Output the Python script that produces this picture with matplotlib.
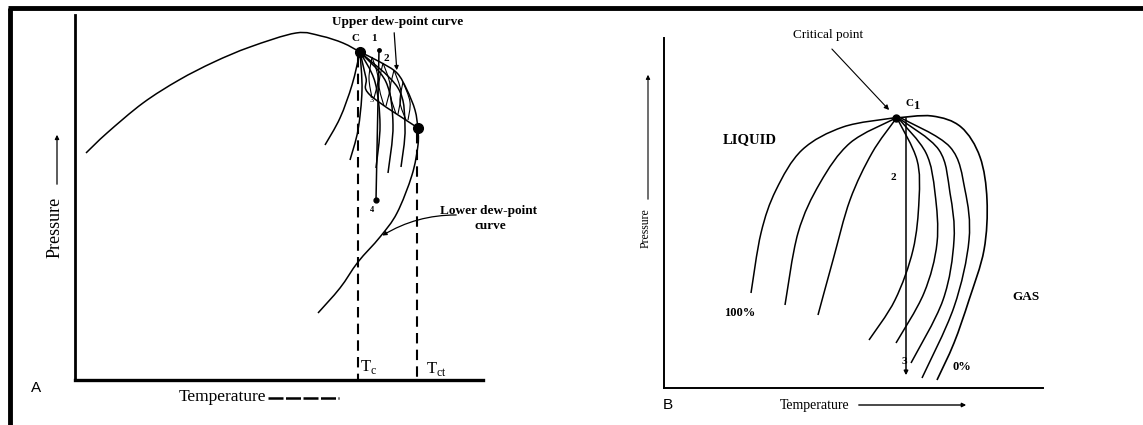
import matplotlib.pyplot as plt
import numpy as np
from matplotlib.path import Path
from matplotlib.patches import PathPatch

# all coordinates are picture pixels (x to the right, y downwards)

# ---------- panel A : retrograde condensation ----------
bubble_A = [(86, 153), (107, 133), (143, 103), (179, 80), (214, 62), (250, 47),
            (296, 33), (321, 36), (343, 43), (360, 52)]
upper_dew_A = [(360, 52), (380, 62), (397, 73), (407, 90), (415, 110), (418, 128)]
lower_dew_A = [(418, 128), (418, 145), (412, 175), (397, 213), (380, 237),
               (358, 262), (340, 288), (318, 313)]
inner_edge_A = [(360, 52), (366, 78), (370, 95), (418, 128)]
quality_A = [
    [(360, 52), (352, 85), (340, 118), (325, 145)],
    [(360, 52), (362, 90), (358, 130), (350, 160)],
    [(360, 52), (375, 82), (380, 125), (376, 168)],
    [(360, 52), (386, 82), (393, 125), (388, 173)],
    [(360, 52), (398, 88), (405, 128), (401, 167)],
]
hatch_A = [
    [(372, 57), (369, 78), (372, 98)],
    [(383, 63), (379, 85), (384, 106)],
    [(394, 70), (390, 92), (396, 114)],
    [(403, 82), (400, 102), (406, 120)],
    [(372, 57), (378, 78), (374, 98)],
    [(383, 63), (390, 85), (386, 106)],
    [(394, 70), (401, 92), (398, 114)],
    [(403, 82), (410, 102), (408, 120)],
]
crit_A = (360, 52)
cricondentherm_A = (418, 128)
path_14 = [(379, 50), (376, 200)]
Tc_x, Tct_x = 358, 417

# ---------- panel B : phase envelope with quality lines ----------
envelope_B = [(896, 118), (932, 116), (961, 127), (980, 157), (987, 200),
              (984, 250), (969, 300), (954, 343), (937, 380)]
quality_B = [
    [(893, 118), (843, 127), (802, 150), (776, 190), (761, 233), (751, 293)],
    [(894, 119), (850, 143), (820, 183), (798, 233), (785, 305)],
    [(895, 120), (872, 153), (850, 200), (833, 260), (818, 315)],
    [(898, 120), (917, 160), (919, 200), (913, 250), (895, 300), (869, 340)],
    [(899, 119), (926, 153), (935, 193), (937, 243), (924, 293), (896, 343)],
    [(900, 119), (939, 150), (950, 193), (954, 240), (943, 300), (911, 363)],
    [(901, 118), (950, 147), (965, 190), (969, 240), (954, 307), (922, 378)],
]
crit_B = (896, 118)
path_123 = [(906, 115), (906, 378)]


def smooth(ax, pts, lw=1.0, **kw):
    p = np.array(pts, dtype=float)
    if len(p) < 3:
        ax.plot(p[:, 0], p[:, 1], color='black', lw=lw, **kw)
        return
    ext = np.vstack([p[0], p, p[-1]])
    verts = [tuple(p[0])]
    codes = [Path.MOVETO]
    for i in range(1, len(ext) - 2):
        c1 = ext[i] + (ext[i + 1] - ext[i - 1]) / 6
        c2 = ext[i + 1] - (ext[i + 2] - ext[i]) / 6
        verts += [tuple(c1), tuple(c2), tuple(ext[i + 1])]
        codes += [Path.CURVE4] * 3
    ax.add_patch(PathPatch(Path(verts, codes), fill=False, edgecolor='black', lw=lw, **kw))


fig = plt.figure(figsize=(11.43, 4.25), dpi=100)
ax = fig.add_axes([0, 0, 1, 1])
ax.set_xlim(0, 1143)
ax.set_ylim(425, 0)
ax.axis('off')

serif = 'Liberation Serif'

# frame
ax.plot([8, 1143], [8, 8], color='black', lw=3.5, solid_capstyle='butt')
ax.plot([10, 10], [8, 425], color='black', lw=3.5, solid_capstyle='butt')

# --- panel A axes
ax.plot([75, 75], [15, 380], color='black', lw=2)
ax.plot([75, 483], [380, 380], color='black', lw=2.4)
ax.text(55, 227, 'Pressure', rotation=90, ha='center', va='center', family=serif, fontsize=13)
ax.annotate('', xy=(57, 132), xytext=(57, 187),
            arrowprops=dict(arrowstyle='-|>', color='black', lw=0.9, mutation_scale=6))
ax.text(222, 397, 'Temperature', ha='center', va='center', family=serif, fontsize=12.5)
ax.plot([268, 339], [398, 398], color='black', lw=1.8, ls=(0, (6, 1)))
ax.text(36, 388, 'A', ha='center', va='center', fontsize=11, family='Liberation Sans')

for pts in [bubble_A, upper_dew_A, lower_dew_A, inner_edge_A] + quality_A:
    smooth(ax, pts, lw=1.1)
for pts in hatch_A:
    smooth(ax, pts, lw=0.8)
ax.plot(*zip(*path_14), color='black', lw=1.1)
ax.plot(*path_14[0], 'o', color='black', ms=2.5)
ax.plot(*path_14[1], 'o', color='black', ms=3.5)
ax.plot(*crit_A, 'o', color='black', ms=7)
ax.plot(*cricondentherm_A, 'o', color='black', ms=7)
ax.plot([Tc_x, Tc_x], [crit_A[1] + 5, 380], color='black', lw=1.5, ls=(0, (5, 3)))
ax.plot([Tct_x, Tct_x], [cricondentherm_A[1] + 5, 380], color='black', lw=1.5, ls=(0, (5, 3)))
ax.text(369, 367, r'T$_\mathregular{c}$', ha='center', va='center', family=serif, fontsize=12)
ax.text(436, 369, r'T$_\mathregular{ct}$', ha='center', va='center', family=serif, fontsize=12)

ax.text(398, 22, 'Upper dew-point curve', ha='center', va='center', family=serif,
        fontsize=9.5, fontweight='bold')
ax.annotate('', xy=(397, 73), xytext=(394, 30),
            arrowprops=dict(arrowstyle='-|>', color='black', lw=0.9, mutation_scale=6))
ax.text(355, 38, 'C', ha='center', va='center', family=serif, fontsize=8, fontweight='bold')
ax.text(374, 38, '1', ha='center', va='center', family=serif, fontsize=8, fontweight='bold')
ax.text(386, 58, '2', ha='center', va='center', family=serif, fontsize=8, fontweight='bold')
ax.text(372, 100, '3', ha='center', va='center', family=serif, fontsize=6)
ax.text(372, 210, '4', ha='center', va='center', family=serif, fontsize=6, fontweight='bold')
ax.text(488, 211, 'Lower dew-point', ha='center', va='center', family=serif,
        fontsize=9.5, fontweight='bold')
ax.text(490, 226, 'curve', ha='center', va='center', family=serif, fontsize=9.5, fontweight='bold')
ax.annotate('', xy=(380, 237), xytext=(459, 215),
            arrowprops=dict(arrowstyle='-|>', color='black', lw=0.9, mutation_scale=6,
                            connectionstyle='arc3,rad=0.15'))

# --- panel B axes
ax.plot([664, 664], [38, 388], color='black', lw=1.4)
ax.plot([664, 1043], [388, 388], color='black', lw=1.4)
ax.text(646, 228, 'Pressure', rotation=90, ha='center', va='center', family=serif, fontsize=8.5)
ax.annotate('', xy=(648, 72), xytext=(648, 202),
            arrowprops=dict(arrowstyle='-|>', color='black', lw=0.8, mutation_scale=6))
ax.text(815, 405, 'Temperature', ha='center', va='center', family=serif, fontsize=10)
ax.annotate('', xy=(969, 405), xytext=(856, 405),
            arrowprops=dict(arrowstyle='-|>', color='black', lw=1.0, mutation_scale=6))
ax.text(668, 405, 'B', ha='center', va='center', fontsize=11, family='Liberation Sans')

smooth(ax, envelope_B, lw=1.2)
for pts in quality_B:
    smooth(ax, pts, lw=1.1)
ax.annotate('', xy=path_123[1], xytext=path_123[0],
            arrowprops=dict(arrowstyle='-|>', color='black', lw=1.1, mutation_scale=6))
ax.plot(*crit_B, 'o', color='black', ms=5)
ax.text(828, 35, 'Critical point', ha='center', va='center', family=serif, fontsize=9.5)
ax.annotate('', xy=(891, 112), xytext=(830, 47),
            arrowprops=dict(arrowstyle='-|>', color='black', lw=0.8, mutation_scale=7))
ax.text(909, 103, 'C', ha='center', va='center', family=serif, fontsize=8, fontweight='bold')
ax.text(916, 106, '1', ha='center', va='center', family=serif, fontsize=9, fontweight='bold')
ax.text(893, 177, '2', ha='center', va='center', family=serif, fontsize=8, fontweight='bold')
ax.text(904, 362, '3', ha='center', va='center', family=serif, fontsize=8, fontweight='bold')
ax.text(750, 140, 'LIQUID', ha='center', va='center', family=serif, fontsize=10.5, fontweight='bold')
ax.text(1026, 297, 'GAS', ha='center', va='center', family=serif, fontsize=9.5, fontweight='bold')
ax.text(740, 313, '100%', ha='center', va='center', family=serif, fontsize=9, fontweight='bold')
ax.text(962, 367, '0%', ha='center', va='center', family=serif, fontsize=9, fontweight='bold')

fig.savefig('out.png', dpi=100)
